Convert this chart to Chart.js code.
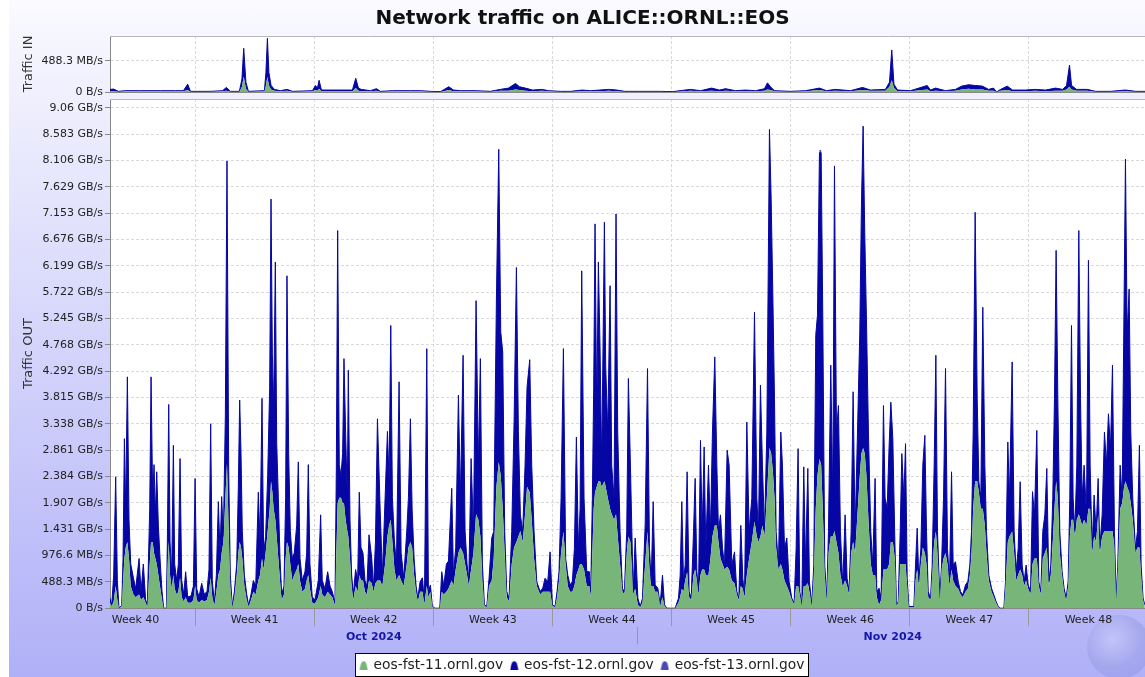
<!DOCTYPE html>
<html>
<head>
<meta charset="utf-8">
<title>Network traffic on ALICE::ORNL::EOS</title>
<script src="https://cdn.jsdelivr.net/npm/chart.js@4.4.1/dist/chart.umd.min.js"></script>
<style>
  html, body { margin: 0; padding: 0; width: 1145px; height: 677px; overflow: hidden; background: #fff; }
  #panel { position: absolute; left: 9px; top: 0; width: 1140px; height: 677px;
    background: linear-gradient(to bottom, #fafaff 0%, #b0b0f8 100%); }
  #globe { position: absolute; left: 1087px; top: 615px; width: 64px; height: 64px; border-radius: 50%;
    background: radial-gradient(circle at 40% 38%, rgba(205,210,250,0.55) 0%, rgba(150,155,225,0.45) 50%, rgba(120,125,215,0.3) 85%, rgba(120,125,215,0) 100%); }
  #wrapIn { position: absolute; left: 0; top: 0; }
  #wrapOut { position: absolute; left: 0; top: 95px; }
</style>
</head>
<body>
<div id="panel"></div>
<div id="globe"></div>
<div id="wrapIn"><canvas id="chartIn" width="1148" height="100"></canvas></div>
<div id="wrapOut"><canvas id="chartOut" width="1148" height="587"></canvas></div>
<script>
  // hours since 1 Oct 2024 00:00, values in GB/s (1 GB = 2^30 bytes)
  const seriesNames = ["eos-fst-11.ornl.gov", "eos-fst-12.ornl.gov", "eos-fst-13.ornl.gov"];
  const seriesColors = ["#78b578", "#0606a4", "#4a4ab6"];

  const tickStep = 0.476837; // 512e6 bytes
  const inTickLabels = ["0 B/s", "488.3 MB/s"];
  const outTickLabels = ["0 B/s", "488.3 MB/s", "976.6 MB/s", "1.431 GB/s", "1.907 GB/s", "2.384 GB/s",
    "2.861 GB/s", "3.338 GB/s", "3.815 GB/s", "4.292 GB/s", "4.768 GB/s", "5.245 GB/s", "5.722 GB/s",
    "6.199 GB/s", "6.676 GB/s", "7.153 GB/s", "7.629 GB/s", "8.106 GB/s", "8.583 GB/s", "9.06 GB/s"];

  const weekStarts = [-48, 120, 288, 456, 624, 792, 960, 1128, 1296, 1464];
  const weekLabels = ["Week 40", "Week 41", "Week 42", "Week 43", "Week 44", "Week 45", "Week 46", "Week 47", "Week 48"];
  const monthStarts = [0, 744, 1464];
  const monthLabels = ["Oct 2024", "Nov 2024"];

  // Traffic IN
  const inHours = [
    0,5.1,11.8,21.7,42.9,71.1,92.3,103.5,109.6,113.4,
    141.6,158.6,164.2,169.8,182.5,186.1,188.6,191.7,195.2,217.8,
    219.9,222,224.1,227.2,231.9,240.4,249.8,257.3,285.5,289.7,
    292.6,294.9,298.2,320.3,334.5,341.9,346.6,350.4,354.2,367.3,
    375.8,381.4,398.4,423.7,437.9,452,466.1,477.8,484.4,494.3,
    515.5,536.6,550.7,562,571.9,577.5,586,595.9,609.5,618.4,
    635.4,649.5,666,677.7,690.7,703.4,714.7,726,747.2,775.4,
    793.3,818.8,832.9,848.4,859.7,868.1,882.2,896.3,910.4,923.1,
    927.3,931.5,937.2,959.7,980.9,1000.6,1010.5,1022.7,1044.4,1061.3,
    1072.6,1093.7,1099.4,1102.6,1105.7,1110.7,1129,1152.6,1157.2,1164.3,
    1178.4,1192.5,1201,1210.8,1220.7,1230.6,1239.1,1246.1,1250.4,1256.1,
    1265.5,1273,1291.3,1304.7,1319.5,1333.6,1343.5,1349.1,1353.3,1356.2,
    1363.2,1378.2,1390,1411.2,1432.1,1446.5,1460.6];
  const inFst11 = [
    0.01,0.01,0.005,0.01,0.01,0.01,0.01,0.01,0.03,0.005,
    0.005,0.01,0.02,0.005,0.005,0.08,0.235,0.05,0.005,0.01,
    0.1,0.235,0.1,0.04,0.02,0.01,0.02,0.005,0.01,0.03,
    0.02,0.05,0.01,0.01,0.01,0.01,0.06,0.02,0.01,0.01,
    0.02,0.005,0.01,0.01,0.01,0.005,0,0.03,0.01,0.01,
    0.01,0.005,0.02,0.02,0.04,0.03,0.02,0.01,0.02,0.01,
    0.005,0.005,0.01,0.01,0.01,0.02,0.01,0.005,0.005,0.005,
    0,0.02,0.01,0.02,0.01,0.02,0.01,0.01,0.01,0.02,
    0.04,0.03,0.01,0.005,0.01,0.03,0.01,0.02,0.01,0.03,
    0.02,0.02,0.08,0.18,0.06,0.01,0.01,0.04,0.01,0.02,
    0.01,0.02,0.04,0.05,0.04,0.04,0.02,0.02,0,0.02,
    0.03,0.01,0.01,0.02,0.01,0.02,0.02,0.04,0.08,0.04,
    0.02,0.02,0.005,0.005,0.01,0.005,0.005];
  const inFst12 = [
    0.03,0.035,0.005,0.01,0.01,0.01,0.01,0.01,0.09,0.005,
    0.005,0.01,0.05,0.005,0.005,0.12,0.437,0.1,0.005,0.01,
    0.2,0.591,0.2,0.06,0.02,0.01,0.02,0.005,0.01,0.07,
    0.04,0.13,0.02,0.02,0.02,0.02,0.15,0.04,0.03,0.01,
    0.03,0.005,0.01,0.01,0.01,0.005,0.005,0.05,0.02,0.01,
    0.01,0.005,0.02,0.04,0.09,0.05,0.04,0.02,0.02,0.01,
    0.005,0.005,0.02,0.01,0.02,0.02,0.02,0.005,0.005,0.005,
    0.005,0.02,0.01,0.04,0.02,0.03,0.01,0.02,0.01,0.03,
    0.1,0.05,0.01,0.005,0.01,0.03,0.01,0.02,0.01,0.04,
    0.01,0.02,0.07,0.466,0.06,0.02,0.01,0.06,0.02,0.04,
    0.01,0.02,0.05,0.06,0.06,0.05,0.02,0.04,0,0.02,
    0.06,0.02,0.02,0.02,0.02,0.04,0.02,0.06,0.335,0.06,
    0.02,0.02,0.005,0.005,0.02,0.005,0.005];
  const inFst13 = [
    0.002,0.002,0.001,0.001,0.001,0.001,0.001,0.001,0.004,0.001,
    0.001,0.001,0.003,0.001,0.001,0.005,0.01,0.004,0.001,0.001,
    0.005,0.01,0.005,0.002,0.001,0.001,0.002,0.001,0.001,0.003,
    0.002,0.005,0.001,0.001,0.001,0.001,0.006,0.002,0.002,0.001,
    0.002,0.001,0.001,0.001,0.001,0.001,0.001,0.003,0.002,0.001,
    0.001,0.001,0.002,0.002,0.004,0.003,0.002,0.001,0.002,0.001,
    0.001,0.001,0.002,0.001,0.002,0.002,0.002,0.001,0.001,0.001,
    0.001,0.002,0.001,0.003,0.002,0.002,0.001,0.002,0.001,0.002,
    0.005,0.003,0.001,0.001,0.001,0.003,0.001,0.002,0.001,0.003,
    0.001,0.002,0.004,0.01,0.003,0.001,0.001,0.004,0.001,0.003,
    0.001,0.002,0.004,0.004,0.004,0.004,0.002,0.003,0,0.002,
    0.004,0.001,0.001,0.002,0.001,0.003,0.002,0.004,0.008,0.004,
    0.002,0.002,0.001,0.001,0.002,0.001,0.001];

  // Traffic OUT
  const outHours = [
    0,2.4,5.2,8,10.4,12.7,16.5,18.4,20.3,22.1,
    24.5,26.8,29.2,33,36.2,41,43.8,47,50.3,52.7,
    56,57.9,60.2,62.1,64,65.9,68.2,71,73.4,75.7,
    79.5,80.9,82.8,84.7,87,89.4,91.2,94.1,96.4,98.8,
    101.1,104,106.7,109.6,114.3,117.6,120,122.3,125.5,129.3,
    133,136.8,139.6,142,144.3,147.2,150,152.8,155.2,157.5,
    159.9,162.7,165,167.4,169.7,172.5,175.4,178.7,181,182.9,
    184.8,186.6,189.5,192.8,195.6,198.9,202.2,205.5,209.2,211.6,
    214.4,216.7,219.5,222.4,225.2,227.1,229,230.8,233.2,235.1,
    237.4,239.8,242.1,245.4,247.7,249.6,252,254.3,257.1,259.9,
    263.3,265.6,268,271.2,275,277.4,279.7,282,285.3,289.1,
    293.8,297.1,299.4,303.2,307,310.3,313.5,317.3,319.2,321.1,
    323.4,325.8,328.1,330,332.3,334.7,336.1,338.5,340.8,343.2,
    346.4,349.3,351.6,354,356.8,359.6,362.4,365.3,
    369.2,371.6,374.4,377.2,381,384.2,388,391.3,393.6,396,
    398.3,401.2,404,407.7,410.6,414.3,418.6,420.9,423.7,426.1,
    428.9,431.7,434.1,437.4,440.6,443.5,446.8,449.1,451.9,454.7,
    458.5,465.1,467.9,470.7,474.5,477.3,482,484.4,487.6,491.4,
    494.2,498,500.8,503.6,506,509.3,512.6,516.3,519.6,522.4,
    525.2,528.1,531.4,534.6,538.4,541.2,545,548.3,551.1,553.9,
    556.7,559.6,562.8,566.6,569.9,573.2,576,578.8,582.1,585.4,
    588.2,592,594.8,598.1,601.9,606.6,610.3,613.6,617.4,620.7,
    624,627.7,630.5,633.3,636.2,639.5,642.7,645.6,648.9,652.1,
    655,657.8,660.6,663,665.3,668.6,672.4,676.1,678,680.3,
    682.2,684.1,686.5,688.8,691.2,693.5,697.3,699.1,702,705.3,
    707.6,710.9,713.7,716.1,719.4,722.7,725.5,728.8,731.1,734,
    737.9,740.7,744.5,747.8,751,754.8,758.1,760.9,763.3,766.1,
    768.9,772.7,776,779.2,782.1,785.4,797.1,801.8,804.2,806.5,
    808.9,811.2,814,816.8,819.7,823,825.3,827.7,830,832.8,
    835.2,838,840.3,844.1,846.9,849.7,853,855.9,858.2,861,
    863.9,866.7,870.4,873.2,877,880.8,884.1,886.9,889.7,892.5,
    894.9,898.2,901.4,905.2,909,912.3,914.6,917.4,920.2,923.1,
    926.4,930.1,932.5,934.8,937.2,939.5,942.8,946.1,948.4,951.3,
    954.6,957.8,961.6,964.9,967.7,970.5,972.9,975.7,978.5,980.9,
    984.2,986.5,989.8,992.6,995.4,997.8,1000.6,1003,1005.3,1008.1,
    1011,1013.3,1016.6,1019.4,1021.8,1024.6,1027.4,1030.2,1033.5,1036.8,
    1039.6,1042.4,1045.3,1048.1,1050.9,1054.7,1057.5,1059.8,1062.2,1064.5,
    1066.9,1069.7,1073,1075.8,1079.1,1081.5,1084.7,1087.6,1090.9,1093.2,
    1096.1,1098.9,
    1101.3,1104.1,1107,1109.3,1111.7,1114.5,1116.8,1119.7,1122,1124.4,
    1126.7,1133.8,1136.1,1138.5,1140.8,1143.6,1146.4,1149.3,1151.6,1154,
    1157.3,1159.6,1162.4,1164.8,1167.1,1170.4,1172.8,1175.6,1178.4,1181.2,
    1184,1186.9,1189.2,1192.5,1196.3,1199.6,1202.8,1206.6,1209.9,1212.7,
    1215.1,1217.4,1220.2,1223.1,1225.4,1228.2,1231,1233.9,1236.2,1239.5,
    1243.3,1246.6,1249.8,1252.7,1256,1260.7,1263,1266.3,1268.6,1272.4,
    1275.2,1278,1280.9,1283.7,1286.5,1289.3,1292.1,1295,1298.3,1301.1,
    1303.9,1307.2,1310,1312.8,1315.6,1318.5,1321.3,1324.1,1326.9,1329.7,
    1332.1,1334.4,1336.8,1339.6,1342.9,1345.7,1348.5,1351.4,1353.7,1356.1,
    1358.4,1360.8,1363.6,1366.4,1368.8,1371.1,1373.9,1377.2,1380,1382.4,
    1385.2,1388,1390.8,1393.7,1396,1399.3,1402.6,1405.4,1408.2,1411.1,
    1413.9,1416.7,1419,1421.4,1424.7,1427.5,1430.3,1432.2,1434.6,1437.4,
    1439.7,1442.5,1446.3,1449.1,1451.9,1454.3,1457.1,1459.5];
  const outFst11 = [
    0.1,0.04,0.12,0.4,0.15,0,0.03,0.5,0.9,1.1,
    1.2,0.9,0.4,0.25,0.2,0.25,0.15,0.2,0.1,0.04,
    0.8,1.2,1.2,1.0,0.9,0.8,0.6,0.35,0.15,0,
    0,0.7,1.2,0.6,0.35,0.6,0.35,0.25,0.3,0.55,
    0.2,0.12,0.2,0.1,0.1,0.15,0.4,0.15,0.1,0.15,
    0.12,0.15,0.3,0.55,0.2,0.05,0.3,0.6,0.7,1.0,
    1.2,2.0,2.62,1.4,0.4,0.02,0.2,0.6,1.0,1.2,
    1.1,0.9,0.4,0.15,0.03,0.15,0.3,0.25,0.5,0.6,
    0.9,0.7,1.0,1.4,1.8,2.3,2.1,1.8,1.6,1.3,
    0.9,0.5,0.15,0.25,0.9,1.2,1.1,0.8,0.5,0.6,
    0.7,0.8,0.5,0.3,0.35,0.5,0.6,0.35,0.1,0.08,
    0.2,0.4,0.25,0.2,0.3,0.25,0.2,0.05,1.0,1.9,
    2.0,2.0,1.9,1.9,1.6,1.4,1.3,0.9,0.4,0.15,
    0.4,0.3,0.6,0.5,0.5,0.3,0.25,0.5,
    0.45,0.3,0.45,0.5,0.5,0.4,0.8,1.3,1.5,1.6,
    1.2,0.7,0.5,0.6,0.5,0.4,0.8,1.1,1.2,1.1,
    0.6,0.3,0.12,0.3,0.3,0.08,0.4,0.2,0.3,0.02,
    0,0,0.3,0.25,0.3,0.35,0.5,0.4,0.7,1.0,
    1.1,1.0,0.8,0.6,0.4,0.7,1.0,1.7,1.6,1.3,
    0.5,0.04,0.02,0.4,0.5,0.9,2.2,2.65,2.4,1.8,
    1.0,0.2,0.12,0.8,1.1,1.2,1.3,1.4,1.2,1.7,
    2.2,2.1,1.6,0.9,0.4,0.25,0.3,0.3,0.3,0.3,
    0.04,0.02,0.2,0.5,1.0,1.39,0.8,0.4,0.3,0.3,
    0.4,0.6,0.7,0.8,0.8,0.7,0.4,0.4,0.2,1.0,
    1.8,2.1,2.2,2.3,2.3,2.2,2.3,2.2,2.0,1.8,
    1.7,1.6,1.7,1.3,0.8,0.3,0.25,1.0,1.3,1.2,
    0.25,0.35,0.06,0.02,0.1,0.8,1.39,0.7,0.4,0.4,
    0.3,0.3,0.05,0.2,0.04,0,0,0.1,0.2,0.35,
    0.3,0.5,0.65,0.2,0.15,0.6,0.7,0.5,0.25,0.6,
    0.7,0.7,0.6,0.6,0.9,1.3,1.5,1.5,1.2,0.9,
    0.8,0.7,0.75,0.7,0.5,0.45,0.25,0.15,0.4,0.35,
    0.2,0.6,0.9,1.2,1.57,1.3,1.2,1.3,1.5,1.3,
    2.0,2.9,2.8,2.5,2.0,1.1,0.7,0.8,0.7,0.5,
    0.4,0.3,0.15,0.07,0.4,0.4,0.25,0.05,0.4,0.4,
    0.45,0.3,0.05,0.6,1.8,2.4,2.7,2.6,1.8,0.6,
    0.15,1.0,1.3,1.3,1.4,1.2,1.0,0.6,0.4,0.5,
    0.4,0.25,1.0,1.2,1.0,1.8,2.4,2.8,2.9,2.8,
    2.4,1.6,0.8,0.6,0.6,0.2,0.06,0.15,0.7,0.7,
    0.7,0.8,
    1.2,1.2,0.9,0.05,0.1,0.8,0.8,0.8,0.8,0.4,
    0.02,0.02,0.5,0.7,0.4,0.8,1.1,1.0,0.8,0.2,
    0.15,0.6,1.2,1.39,1.0,0.15,0.7,0.9,1.0,0.8,
    0.4,0.7,0.5,0.4,0.35,0.25,0.2,0.3,0.35,0.6,
    1.0,1.8,2.3,2.3,2.1,1.8,1.8,1.5,1.0,0.5,
    0.3,0.2,0.1,0.02,0,0,0.4,1.2,1.3,1.39,
    1.0,0.5,0.6,0.7,0.6,0.4,0.5,0.35,0.25,0.8,
    0.9,0.9,0.4,0.25,0.9,1.0,1.1,0.4,0.6,1.2,
    1.8,2.3,2.0,1.0,0.6,0.3,0.15,0.4,1.3,1.6,
    1.6,1.3,1.6,1.7,1.6,1.5,1.6,1.5,1.8,1.8,
    1.0,1.3,1.2,1.7,1.0,1.3,1.4,1.4,1.4,1.4,
    1.4,1.1,0.15,0.7,1.8,1.9,2.2,2.3,2.2,2.1,
    1.9,1.6,1.0,1.1,1.1,0.6,0.15,0.05];
  const outFst12 = [
    0.08,0.01,0.48,1.98,0.35,0,0.02,0.4,2.17,0.7,
    2.99,0.7,0.4,0.3,0.15,0.65,0.15,0.6,0.05,0.01,
    1.0,2.99,0.8,1.6,0.8,1.67,0.9,0.45,0.15,0,
    0,0.5,2.49,0.6,0.25,2.35,0.45,0.25,0.5,2.16,
    0.3,0.13,0.46,0.1,0.12,0.25,1.95,0.2,0.1,0.3,
    0.13,0.15,0.4,2.79,0.3,0.05,0.3,1.33,0.3,1.02,
    0.1,1.5,5.48,1.1,0.2,0.01,0.1,0.2,1.2,2.57,
    1.7,0.5,0.2,0.1,0.02,0.1,0.2,0.15,1.6,0.6,
    2.9,0.3,0.3,1.0,2.2,5.11,2.5,1.8,4.67,1.7,
    1.1,0.4,0.1,0.15,1.1,4.82,1.7,0.6,0.4,0.4,
    0.8,1.85,0.4,0.2,0.31,0.5,2.0,0.45,0.1,0.07,
    0.3,1.29,0.25,0.15,0.36,0.15,0.1,0.05,1.5,4.94,
    0.6,0.4,0.9,2.62,1.59,0.6,3.01,0.7,0.2,0.1,
    0.3,0.2,1.5,0.6,0.5,0.2,0.15,0.83,
    0.45,0.06,0.75,2.93,1.3,0.2,1.2,1.9,0.8,3.52,
    0.8,0.5,0.3,3.5,0.5,0.15,0.6,0.9,2.23,0.7,
    0.3,0.1,0.06,0.18,0.25,0.04,4.3,0.1,0.12,0.01,
    0,0,0.36,0.15,0.5,0.5,1.67,0.2,0.4,2.86,
    0.9,3.58,0.6,0.2,0.1,2.01,0.4,3.87,1.0,3.22,
    0.3,0.02,0.01,0.14,0.77,0.49,3.4,5.66,2.6,2.84,
    0.39,0.1,0.06,0.59,2.27,4.97,1.9,0.29,0.19,0.89,
    1.8,2.4,0.99,0.49,0.08,0.05,0.06,0.24,0.18,0.72,
    0.02,0.01,0.1,0.16,0.99,3.31,0.1,0.2,0.12,0.18,
    0.68,2.5,0.38,1.0,5.31,1.29,0.26,0.26,0.1,0.99,
    2.2,4.86,1.3,3.97,2.4,0.39,4.69,2.2,1.19,4.04,
    0.89,0.39,5.44,1.89,0.59,0.06,0.05,0.39,2.86,1.39,
    0.05,0.92,0.12,0.01,0.08,0.71,2.95,0.38,0.08,1.53,
    0.12,0.06,0.01,0.4,0.02,0,0,0.08,0.4,1.58,
    0.18,0.28,1.82,0.1,0.03,0.79,1.65,0.16,0.05,2.44,
    0.69,2.22,0.48,1.99,0.49,1.89,3.05,1.09,0.19,0.79,
    0.28,0.08,2.11,1.89,0.28,0.57,0.05,0.03,1.1,0.19,
    0.04,2.77,0.49,0.79,3.79,0.69,0.19,2.74,1.09,0.09,
    1.19,5.77,4.6,3.22,1.8,0.29,0.08,2.39,1.89,0.58,
    0.87,0.18,0.03,0.02,0.68,2.49,0.05,0.01,2.16,0.38,
    2.08,0.18,0.01,0.18,3.14,2.9,5.55,5.65,3.5,0.18,
    0.03,0.39,3.1,0.69,6.61,1.99,2.67,0.79,0.02,1.19,
    0.14,0.05,0.39,2.72,0.39,1.63,2.6,4.49,5.83,4.0,
    2.84,1.59,0.59,0.18,1.75,0.1,0.3,0.03,2.97,1.29,
    1.1,2.15,
    2.53,1.87,0.3,0.01,0.02,0.59,2.0,1.19,2.18,0.14,
    0.01,0.01,0.28,0.75,0.08,0.28,1.49,2.13,0.59,0.1,
    0.03,0.18,1.39,3.19,0.39,0.03,0.08,1.09,3.34,0.28,
    0.08,1.77,0.28,0.44,0.13,0.05,0.04,0.12,0.13,0.18,
    0.39,1.39,4.87,1.5,0.19,0.19,3.65,1.09,0.39,0.1,
    0.06,0.04,0.02,0.01,0,0,0.08,1.81,0.69,3.07,
    0.39,0.16,0.48,1.59,0.18,0.08,0.28,0.07,0.05,1.31,
    0.79,2.32,0.08,0.05,0.49,0.69,1.43,0.08,0.18,0.79,
    2.0,4.18,1.8,0.39,0.06,0.06,0.03,0.08,0.69,3.52,
    0.39,0.09,0.99,5.14,2.2,0.49,0.99,0.19,4.5,0.79,
    0.08,0.75,0.19,0.65,0.08,0.39,1.79,1.19,2.12,1.49,
    3.0,0.29,0.03,0.08,0.79,0.09,3.4,5.83,2.77,3.68,
    1.29,0.39,0.08,0.29,1.85,0.18,0.03,0.01];
  const outFst13 = [
    0.01,0.01,0.01,0.03,0.01,0,0.01,0.01,0.03,0.01,
    0.03,0.01,0.01,0.01,0.01,0.01,0.01,0.01,0.01,0.01,
    0.03,0.03,0.01,0.03,0.01,0.03,0.01,0.01,0.01,0,
    0,0.01,0.03,0.01,0.01,0.03,0.01,0.01,0.01,0.03,
    0.01,0.01,0.01,0.01,0.01,0.01,0.03,0.01,0.01,0.01,
    0.01,0.01,0.01,0.03,0.01,0.01,0.01,0.03,0.01,0.03,
    0.01,0.03,0.05,0.03,0.01,0.01,0.01,0.01,0.03,0.03,
    0.03,0.01,0.01,0.01,0.01,0.01,0.01,0.01,0.03,0.01,
    0.03,0.01,0.01,0.03,0.03,0.05,0.03,0.03,0.05,0.03,
    0.03,0.01,0.01,0.01,0.03,0.05,0.03,0.01,0.01,0.01,
    0.01,0.03,0.01,0.01,0.01,0.01,0.03,0.01,0.01,0.01,
    0.01,0.03,0.01,0.01,0.01,0.01,0.01,0.01,0.03,0.05,
    0.01,0.01,0.01,0.03,0.03,0.01,0.05,0.01,0.01,0.01,
    0.01,0.01,0.03,0.01,0.01,0.01,0.01,0.01,
    0.01,0.01,0.01,0.03,0.03,0.01,0.03,0.03,0.01,0.05,
    0.01,0.01,0.01,0.05,0.01,0.01,0.01,0.01,0.03,0.01,
    0.01,0.01,0.01,0.01,0.01,0.01,0.05,0.01,0.01,0.01,
    0,0,0.01,0.01,0.01,0.01,0.03,0.01,0.01,0.03,
    0.01,0.05,0.01,0.01,0.01,0.03,0.01,0.05,0.03,0.05,
    0.01,0.01,0.01,0.01,0.01,0.01,0.05,0.05,0.03,0.03,
    0.01,0.01,0.01,0.01,0.03,0.05,0.03,0.01,0.01,0.01,
    0.03,0.03,0.01,0.01,0.01,0.01,0.01,0.01,0.01,0.01,
    0.01,0.01,0.01,0.01,0.01,0.05,0.01,0.01,0.01,0.01,
    0.01,0.03,0.01,0.03,0.05,0.03,0.01,0.01,0.01,0.01,
    0.03,0.05,0.03,0.05,0.03,0.01,0.05,0.03,0.03,0.05,
    0.01,0.01,0.05,0.03,0.01,0.01,0.01,0.01,0.03,0.03,
    0.01,0.01,0.01,0.01,0.01,0.01,0.03,0.01,0.01,0.03,
    0.01,0.01,0.01,0.01,0.01,0,0,0.01,0.01,0.03,
    0.01,0.01,0.03,0.01,0.01,0.01,0.03,0.01,0.01,0.03,
    0.01,0.03,0.01,0.03,0.01,0.03,0.05,0.03,0.01,0.01,
    0.01,0.01,0.03,0.03,0.01,0.01,0.01,0.01,0.03,0.01,
    0.01,0.03,0.01,0.01,0.05,0.01,0.01,0.03,0.03,0.01,
    0.03,0.05,0.05,0.05,0.03,0.01,0.01,0.03,0.03,0.01,
    0.01,0.01,0.01,0.01,0.01,0.03,0.01,0.01,0.03,0.01,
    0.03,0.01,0.01,0.01,0.05,0.03,0.05,0.05,0.05,0.01,
    0.01,0.01,0.05,0.01,0.05,0.03,0.03,0.01,0.01,0.03,
    0.01,0.01,0.01,0.03,0.01,0.03,0.03,0.05,0.05,0.05,
    0.03,0.03,0.01,0.01,0.03,0.01,0.01,0.01,0.03,0.03,
    0.03,0.03,
    0.03,0.03,0.01,0.01,0.01,0.01,0.03,0.03,0.03,0.01,
    0.01,0.01,0.01,0.01,0.01,0.01,0.03,0.03,0.01,0.01,
    0.01,0.01,0.03,0.05,0.01,0.01,0.01,0.03,0.05,0.01,
    0.01,0.03,0.01,0.01,0.01,0.01,0.01,0.01,0.01,0.01,
    0.01,0.03,0.05,0.03,0.01,0.01,0.05,0.03,0.01,0.01,
    0.01,0.01,0.01,0.01,0,0,0.01,0.03,0.01,0.05,
    0.01,0.01,0.01,0.03,0.01,0.01,0.01,0.01,0.01,0.03,
    0.01,0.03,0.01,0.01,0.01,0.01,0.03,0.01,0.01,0.01,
    0.03,0.05,0.03,0.01,0.01,0.01,0.01,0.01,0.01,0.05,
    0.01,0.01,0.01,0.05,0.03,0.01,0.01,0.01,0.05,0.01,
    0.01,0.01,0.01,0.01,0.01,0.01,0.03,0.03,0.03,0.03,
    0.05,0.01,0.01,0.01,0.01,0.01,0.05,0.05,0.03,0.05,
    0.03,0.01,0.01,0.01,0.03,0.01,0.01,0.01];

  const FONT = "'DejaVu Sans', 'Liberation Sans', sans-serif";
  Chart.defaults.font.family = FONT;
  Chart.defaults.font.size = 11;
  Chart.defaults.color = "#222";

  const weekBounds = weekStarts.filter(v => v > 0 && v < 1464);
  const weekMids = [];
  for (let i = 0; i < weekStarts.length - 1; i++) weekMids.push((weekStarts[i] + weekStarts[i + 1]) / 2);
  const monthBounds = monthStarts.filter(v => v > 0 && v < 1464);
  const monthMids = [];
  for (let i = 0; i < monthStarts.length - 1; i++) monthMids.push((monthStarts[i] + monthStarts[i + 1]) / 2);

  function moundIcon(color) {
    let c = document.createElement("canvas");
    c.width = 9; c.height = 9;
    let g = c.getContext("2d");
    g.fillStyle = color;
    g.beginPath();
    g.moveTo(0.5, 9);
    g.lineTo(1.5, 4);
    g.quadraticCurveTo(2.5, 0.5, 4.5, 0.5);
    g.quadraticCurveTo(6.5, 0.5, 7.5, 4);
    g.lineTo(8.5, 9);
    g.closePath();
    g.fill();
    return c;
  }

  function makeDatasets(hours, lists) {
    return lists.map((vals, i) => ({
      label: seriesNames[i],
      data: hours.map((h, j) => ({ x: h, y: vals[j] })),
      backgroundColor: seriesColors[i],
      borderColor: seriesColors[i],
      borderWidth: i === 1 ? 1 : 0,
      fill: i === 0 ? "origin" : "-1",
      pointRadius: 0,
      pointStyle: moundIcon(seriesColors[i]),
      tension: 0
    }));
  }

  const isWeekBound = v => weekBounds.includes(v);

  // white plot background and the light frame line on top
  const plotFrame = {
    id: "plotFrame",
    beforeDraw(chart) {
      const { ctx, chartArea: a } = chart;
      ctx.save();
      ctx.fillStyle = "#fff";
      ctx.fillRect(a.left, a.top, a.right - a.left, a.bottom - a.top);
      ctx.restore();
    },
    afterDraw(chart) {
      const { ctx, chartArea: a } = chart;
      ctx.save();
      ctx.strokeStyle = "#b8b8c0";
      ctx.lineWidth = 1;
      ctx.beginPath();
      ctx.moveTo(a.left, a.top + 0.5);
      ctx.lineTo(a.right, a.top + 0.5);
      ctx.stroke();
      ctx.restore();
    }
  };

  // white box with black border behind the legend
  const legendBox = {
    id: "legendBox",
    beforeDraw(chart) {
      const lg = chart.legend;
      if (!lg || !lg.legendHitBoxes || !lg.legendHitBoxes.length) return;
      const hb = lg.legendHitBoxes;
      const last = hb[hb.length - 1];
      const x1 = Math.round(hb[0].left - 6), x2 = Math.round(last.left + last.width + 5);
      const y1 = Math.round(hb[0].top - 5), y2 = Math.round(hb[0].top + hb[0].height + 5);
      const ctx = chart.ctx;
      ctx.save();
      ctx.fillStyle = "#fff";
      ctx.fillRect(x1, y1, x2 - x1, y2 - y1);
      ctx.strokeStyle = "#000";
      ctx.lineWidth = 1;
      ctx.strokeRect(x1 + 0.5, y1 + 0.5, x2 - x1 - 1, y2 - y1 - 1);
      ctx.restore();
    }
  };

  function yAxis(labels, max, title) {
    return {
      stacked: true,
      min: 0,
      max: max,
      afterBuildTicks: s => { s.ticks = labels.map((t, i) => ({ value: i * tickStep })); },
      afterFit: s => { s.width = 93; s.paddingTop = 0; s.paddingBottom = 0; },
      ticks: { autoSkip: false, padding: 2, color: "#222", font: { size: 11 }, callback: (v, i) => labels[i] },
      grid: { color: "#d9d9d9", tickColor: "#888", tickLength: 5, tickBorderDash: [] },
      border: { color: "#888", dash: [3, 2] },
      title: { display: true, text: title, color: "#333", font: { size: 13 }, padding: { top: 4, bottom: 0 } }
    };
  }

  new Chart(document.getElementById("chartIn"), {
    type: "line",
    data: { datasets: makeDatasets(inHours, [inFst11, inFst12, inFst13]) },
    options: {
      responsive: false,
      animation: false,
      layout: { padding: { left: 17, right: 0, top: 0, bottom: 0 } },
      plugins: {
        legend: { display: false },
        tooltip: { enabled: false },
        title: {
          display: true,
          text: "Network traffic on ALICE::ORNL::EOS",
          color: "#111",
          font: { size: 20, weight: "bold" },
          padding: { top: 7, bottom: 5 }
        }
      },
      scales: {
        x: {
          type: "linear", min: 0, max: 1464,
          afterBuildTicks: s => { s.ticks = weekBounds.map(v => ({ value: v })); },
          afterFit: s => { s.height = 8; s.paddingLeft = 0; s.paddingRight = 0; },
          ticks: { display: false },
          grid: { color: "#d9d9d9", drawTicks: false },
          border: { color: "#888", dash: [3, 2] }
        },
        y: yAxis(inTickLabels, 0.861, "Traffic IN")
      }
    },
    plugins: [plotFrame]
  });

  new Chart(document.getElementById("chartOut"), {
    type: "line",
    data: { datasets: makeDatasets(outHours, [outFst11, outFst12, outFst13]) },
    options: {
      responsive: false,
      animation: false,
      layout: { padding: { left: 17, right: 0, top: 4, bottom: 0 } },
      plugins: {
        tooltip: { enabled: false },
        legend: {
          position: "bottom",
          labels: {
            usePointStyle: true,
            pointStyleWidth: 6,
            boxHeight: 8,
            padding: 8,
            color: "#222",
            font: { size: 13.8 }
          }
        }
      },
      scales: {
        x: {
          type: "linear", min: 0, max: 1464,
          afterBuildTicks: s => {
            s.ticks = weekBounds.concat(weekMids).sort((a, b) => a - b).map(v => ({ value: v }));
          },
          afterFit: s => { s.height = 19; s.paddingLeft = 0; s.paddingRight = 0; },
          ticks: {
            autoSkip: false, maxRotation: 0, padding: -13, color: "#222", font: { size: 11 },
            callback: v => { const i = weekMids.indexOf(v); return i >= 0 ? weekLabels[i] : ""; }
          },
          grid: {
            color: c => (c.tick && isWeekBound(c.tick.value)) ? "#d9d9d9" : "rgba(0,0,0,0)",
            tickColor: c => (c.tick && isWeekBound(c.tick.value)) ? "#999" : "rgba(0,0,0,0)",
            tickLength: 18,
            tickBorderDash: []
          },
          border: { color: "#888", dash: [3, 2] }
        },
        xm: {
          type: "linear", position: "bottom", min: 0, max: 1464,
          afterBuildTicks: s => {
            s.ticks = monthBounds.concat(monthMids).sort((a, b) => a - b).map(v => ({ value: v }));
          },
          afterFit: s => { s.height = 23; s.paddingLeft = 0; s.paddingRight = 0; },
          ticks: {
            autoSkip: false, maxRotation: 0, padding: -14, color: "#1616a8",
            font: { size: 11, weight: "bold" },
            callback: v => { const i = monthMids.indexOf(v); return i >= 0 ? monthLabels[i] : ""; }
          },
          grid: {
            drawOnChartArea: false,
            tickLength: 17,
            tickColor: c => (c.tick && monthBounds.includes(c.tick.value)) ? "#999" : "rgba(0,0,0,0)",
            tickBorderDash: []
          },
          border: { display: false }
        },
        y: yAxis(outTickLabels, 9.222, "Traffic OUT")
      }
    },
    plugins: [plotFrame, legendBox]
  });
</script>
</body>
</html>
